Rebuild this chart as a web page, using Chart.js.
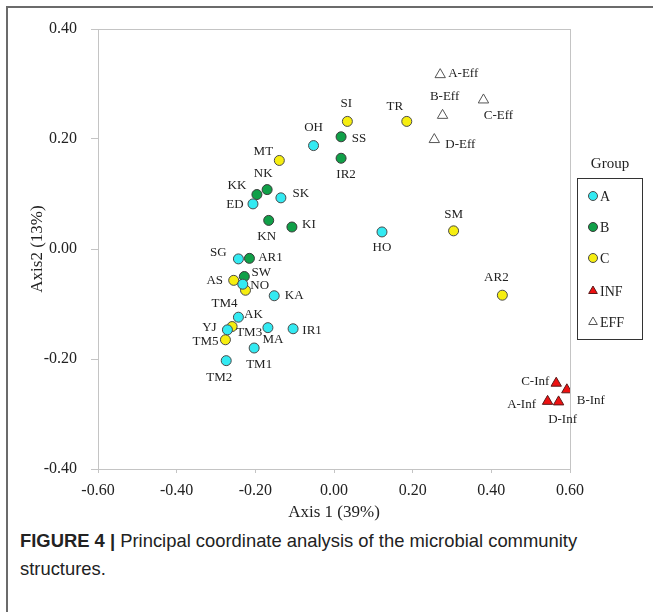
<!DOCTYPE html>
<html>
<head>
<meta charset="utf-8">
<script src="https://cdn.jsdelivr.net/npm/chart.js@4/dist/chart.umd.min.js"></script>
<style>
  body { margin: 0; background: #fff; width: 653px; height: 612px; overflow: hidden; position: relative; }
  .frame-top { position: absolute; left: 7px; top: 6px; width: 646px; height: 2px; background: #6b6b6b; }
  .frame-left { position: absolute; left: 6px; top: 6px; width: 2px; height: 606px; background: #6b6b6b; }
  #wrap { position: absolute; left: 0; top: 0; width: 653px; height: 525px; }
  .caption { position: absolute; left: 20px; top: 527px; width: 585px; font-family: "Liberation Sans", Arial, sans-serif;
    font-size: 18.4px; line-height: 28px; color: #222; }
  .caption b { font-weight: bold; }
</style>
</head>
<body>
<div class="frame-top"></div>
<div class="frame-left"></div>
<div id="wrap"><canvas id="pcoa"></canvas></div>
<div class="caption"><b>FIGURE 4 |</b> Principal coordinate analysis of the microbial community structures.</div>

<script>
// group A
const namesA = ['OH', 'SK', 'ED', 'SG', 'HO', 'NO', 'KA', 'AK', 'YJ', 'MA', 'IR1', 'TM1', 'TM2'];
const xA = [-0.052, -0.135, -0.206, -0.243, 0.122, -0.232, -0.152, -0.243, -0.271, -0.168, -0.104, -0.203, -0.274];
const yA = [0.188, 0.093, 0.082, -0.018, 0.031, -0.064, -0.085, -0.124, -0.147, -0.143, -0.145, -0.180, -0.203];

// group B
const namesB = ['NK', 'KK', 'KN', 'KI', 'AR1', 'SW', 'SS', 'IR2'];
const xB = [-0.170, -0.196, -0.166, -0.107, -0.215, -0.228, 0.018, 0.018];
const yB = [0.108, 0.099, 0.052, 0.040, -0.017, -0.050, 0.204, 0.165];

// group C
const namesC = ['SI', 'TR', 'MT', 'SM', 'AR2', 'AS', 'TM4', 'TM3', 'TM5'];
const xC = [0.034, 0.185, -0.139, 0.304, 0.428, -0.255, -0.225, -0.259, -0.276];
const yC = [0.232, 0.232, 0.161, 0.033, -0.084, -0.057, -0.075, -0.141, -0.165];

// influent
const namesInf = ['A-Inf', 'B-Inf', 'C-Inf', 'D-Inf'];
const xInf = [0.543, 0.592, 0.565, 0.571];
const yInf = [-0.277, -0.256, -0.244, -0.278];

// effluent
const namesEff = ['A-Eff', 'B-Eff', 'C-Eff', 'D-Eff'];
const xEff = [0.270, 0.276, 0.380, 0.255];
const yEff = [0.317, 0.243, 0.271, 0.199];

const groupNames = ['A', 'B', 'C', 'INF', 'EFF'];
const xTicks = [-0.6, -0.4, -0.2, 0, 0.2, 0.4, 0.6];
const yTicks = [-0.4, -0.2, 0, 0.2, 0.4];

// where each text label sits relative to its point (px)
const labelOffset = {
  OH: [0, -18], SK: [20, -4], ED: [-18, 1], SG: [-20, -6], HO: [0, 16], NO: [17, 1], KA: [20, 0],
  AK: [15, -3], YJ: [-18, -2], MA: [5, 12], IR1: [19, 2], TM1: [5, 17], TM2: [-7, 17],
  NK: [-4, -16], KK: [-20, -9], KN: [-2, 16], KI: [17, -2], AR1: [21, -1], SW: [17, -4],
  SS: [18, 2], IR2: [5, 16],
  SI: [-1, -18], TR: [-12, -15], MT: [-16, -9], SM: [0, -16], AR2: [-6, -18], AS: [-19, 0],
  TM4: [-21, 13], TM3: [17, 6], TM5: [-20, 2],
  'A-Inf': [-26, 3], 'B-Inf': [24, 11], 'C-Inf': [-21, -2], 'D-Inf': [4, 18],
  'A-Eff': [23, -1], 'B-Eff': [2, -19], 'C-Eff': [15, 16], 'D-Eff': [26, 5]
};

const pts = (xs, ys) => xs.map((v, i) => ({ x: v, y: ys[i] }));

const datasets = [
  { label: groupNames[0], names: namesA, data: pts(xA, yA), pointStyle: 'circle', pointRadius: 5,
    backgroundColor: '#33eaf2', borderColor: '#4a4a4a', borderWidth: 1 },
  { label: groupNames[1], names: namesB, data: pts(xB, yB), pointStyle: 'circle', pointRadius: 5,
    backgroundColor: '#10a048', borderColor: '#3a3a3a', borderWidth: 1 },
  { label: groupNames[2], names: namesC, data: pts(xC, yC), pointStyle: 'circle', pointRadius: 5,
    backgroundColor: '#f6ee10', borderColor: '#4a4a4a', borderWidth: 1 },
  { label: groupNames[3], names: namesInf, data: pts(xInf, yInf), pointStyle: 'triangle', pointRadius: 6,
    backgroundColor: '#ee1111', borderColor: '#5a1a1a', borderWidth: 1 },
  { label: groupNames[4], names: namesEff, data: pts(xEff, yEff), pointStyle: 'triangle', pointRadius: 6,
    backgroundColor: '#ffffff', borderColor: '#555555', borderWidth: 1 }
];

const serif = '"Liberation Serif", "Times New Roman", serif';

// point names next to the markers
const pointLabels = {
  id: 'pointLabels',
  afterDatasetsDraw(chart) {
    const ctx = chart.ctx;
    ctx.save();
    ctx.font = '13px ' + serif;
    ctx.fillStyle = '#222';
    ctx.textAlign = 'center';
    ctx.textBaseline = 'middle';
    chart.data.datasets.forEach((ds, di) => {
      chart.getDatasetMeta(di).data.forEach((el, i) => {
        const name = ds.names[i];
        const off = labelOffset[name] || [0, -14];
        ctx.fillText(name, el.x + off[0], el.y + off[1]);
      });
    });
    ctx.restore();
  }
};

// plot box + legend box on the right
const frameAndLegend = {
  id: 'frameAndLegend',
  beforeDatasetsDraw(chart) {
    const { ctx, chartArea: a } = chart;
    ctx.save();
    ctx.strokeStyle = '#c4c4c4';
    ctx.lineWidth = 1;
    ctx.strokeRect(Math.round(a.left) + 0.5, Math.round(a.top) + 0.5,
      Math.round(a.right - a.left), Math.round(a.bottom - a.top));
    ctx.restore();
  },
  afterDraw(chart) {
    const ctx = chart.ctx;
    ctx.save();
    ctx.fillStyle = '#222';
    ctx.font = '15px ' + serif;
    ctx.textAlign = 'center';
    ctx.textBaseline = 'middle';
    ctx.fillText('Group', 610, 164);
    ctx.strokeStyle = '#333';
    ctx.lineWidth = 1;
    ctx.strokeRect(577.5, 178.5, 65, 161);
    ctx.font = '14px ' + serif;
    ctx.textAlign = 'left';
    const rowY = [196, 227, 258, 291, 322];
    chart.data.datasets.forEach((ds, i) => {
      const style = {
        pointStyle: ds.pointStyle,
        radius: ds.pointStyle === 'triangle' ? 5 : 4.5,
        rotation: 0,
        borderWidth: 1
      };
      ctx.fillStyle = ds.backgroundColor;
      ctx.strokeStyle = ds.borderColor;
      ctx.lineWidth = 1;
      Chart.helpers.drawPoint(ctx, style, 593, rowY[i]);
      ctx.fillStyle = '#222';
      ctx.fillText(ds.label, 600, rowY[i] + 1);
    });
    ctx.restore();
  }
};

new Chart(document.getElementById('pcoa'), {
  type: 'scatter',
  data: { datasets },
  options: {
    responsive: true,
    maintainAspectRatio: false,
    animation: false,
    devicePixelRatio: 1,
    layout: { padding: { top: 29, right: 83, left: 0, bottom: 0 } },
    plugins: { legend: { display: false }, tooltip: { enabled: false } },
    scales: {
      x: {
        type: 'linear',
        min: -0.6, max: 0.6,
        afterBuildTicks: (s) => { s.ticks = xTicks.map(v => ({ value: v })); },
        afterFit: (s) => { s.height = 56; },
        grid: { display: true, drawOnChartArea: false, drawTicks: true, tickLength: 4, color: '#c4c4c4' },
        border: { display: true, color: '#c4c4c4' },
        ticks: { padding: 8, color: '#222', font: { family: serif, size: 16 },
          callback: (v) => v.toFixed(2), maxRotation: 0 },
        title: { display: true, text: 'Axis 1 (39%)', color: '#222',
          font: { family: serif, size: 17 }, padding: { top: 0, bottom: 2 } }
      },
      y: {
        type: 'linear',
        min: -0.4, max: 0.4,
        afterBuildTicks: (s) => { s.ticks = yTicks.map(v => ({ value: v })); },
        afterFit: (s) => { s.width = 98; },
        grid: { display: true, drawOnChartArea: false, drawTicks: true, tickLength: 7, color: '#c4c4c4' },
        border: { display: true, color: '#c4c4c4' },
        ticks: { padding: 14, color: '#222', font: { family: serif, size: 16 },
          callback: (v) => v.toFixed(2) },
        title: { display: true, text: 'Axis2 (13%)', color: '#222',
          font: { family: serif, size: 17 }, padding: { top: 27, bottom: 0 } }
      }
    }
  },
  plugins: [frameAndLegend, pointLabels]
});
</script>
</body>
</html>
